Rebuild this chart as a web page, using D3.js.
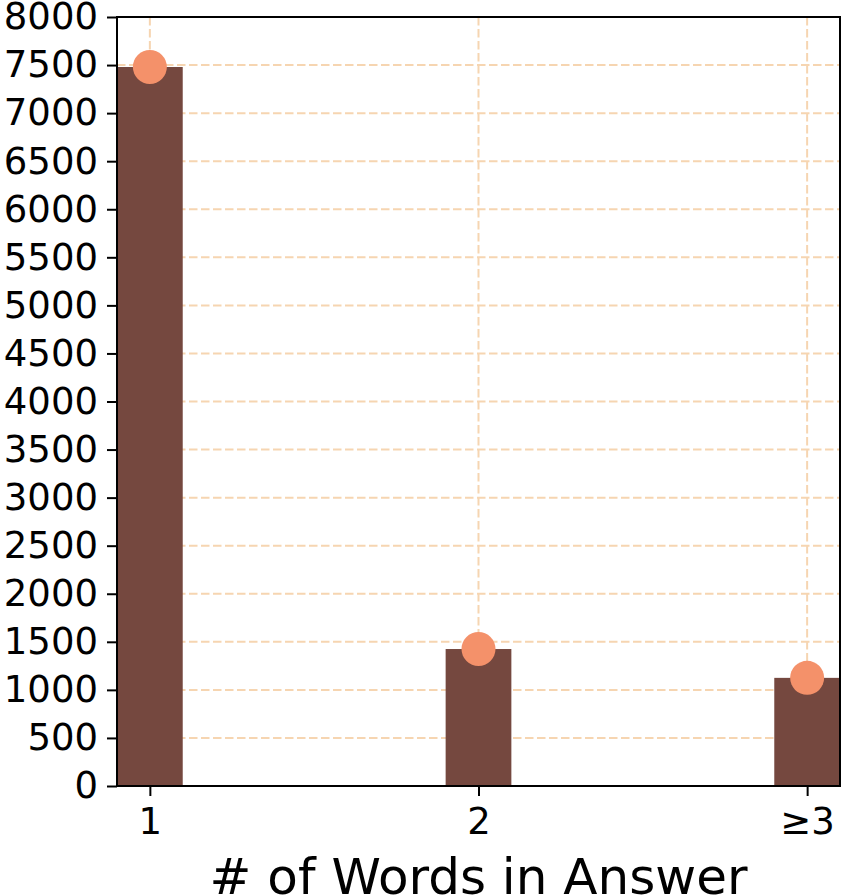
<!DOCTYPE html>
<html>
<head>
<meta charset="utf-8">
<script src="https://cdn.jsdelivr.net/npm/d3@7"></script>
<style>
  body { margin: 0; background: #fff; }
  text { font-family: "DejaVu Sans", sans-serif; fill: #000; }
</style>
</head>
<body>
<svg id="chart" width="846" height="895"></svg>
<script>
// data
const positions = [1, 2, 3];
const categories = ['1', '2', '\u22653'];
const counts = [7480, 1425, 1125];
const yTicks = d3.range(0, 8001, 500);

const svg = d3.select('#chart');
const margin = {left: 117, right: 6, top: 17, bottom: 109};
const width = 846 - margin.left - margin.right,
      height = 895 - margin.top - margin.bottom;

const x = d3.scaleLinear().domain([0.9, 3.1]).range([0, width]);
const y = d3.scaleLinear().domain([0, 8000]).range([height, 0]);
const barW = x(1.2) - x(1);

const g = svg.append('g').attr('transform', `translate(${margin.left},${margin.top})`);

// grid
const gridColor = '#f6d5b1';
g.append('g').selectAll('line').data(yTicks).join('line')
  .attr('x1', 0).attr('x2', width)
  .attr('y1', d => y(d)).attr('y2', d => y(d))
  .attr('stroke', gridColor).attr('stroke-width', 2)
  .attr('stroke-dasharray', '8.5,3.5');
g.append('g').selectAll('line').data(positions).join('line')
  .attr('x1', d => x(d)).attr('x2', d => x(d))
  .attr('y1', 0).attr('y2', height)
  .attr('stroke', gridColor).attr('stroke-width', 2)
  .attr('stroke-dasharray', '8.5,3.5');

// bars
g.append('g').selectAll('rect').data(counts).join('rect')
  .attr('x', (d, i) => x(positions[i]) - barW / 2)
  .attr('width', barW)
  .attr('y', d => y(d))
  .attr('height', d => height - y(d))
  .attr('fill', '#75483f');

// dots
g.append('g').selectAll('circle').data(counts).join('circle')
  .attr('cx', (d, i) => x(positions[i]))
  .attr('cy', d => y(d))
  .attr('r', 17)
  .attr('fill', '#f4916a');

// axes
const yAxis = d3.axisLeft(y).tickValues(yTicks).tickFormat(d3.format('d'))
  .tickSize(10).tickPadding(9);
const xAxis = d3.axisBottom(x).tickValues(positions)
  .tickFormat((d, i) => categories[i]).tickSize(10).tickPadding(12);

const ya = g.append('g').call(yAxis);
const xa = g.append('g').attr('transform', `translate(0,${height})`).call(xAxis);
[ya, xa].forEach(a => {
  a.select('.domain').remove();
  a.selectAll('.tick line').attr('stroke', '#000').attr('stroke-width', 2);
  a.selectAll('.tick text').style('font-size', '37px');
});

// frame
g.append('rect').attr('width', width).attr('height', height)
  .attr('fill', 'none').attr('stroke', '#000').attr('stroke-width', 2);

// axis label
svg.append('text')
  .attr('x', margin.left + x(2)).attr('y', 894)
  .attr('text-anchor', 'middle')
  .style('font-size', '50px')
  .text('# of Words in Answer');
</script>
</body>
</html>
